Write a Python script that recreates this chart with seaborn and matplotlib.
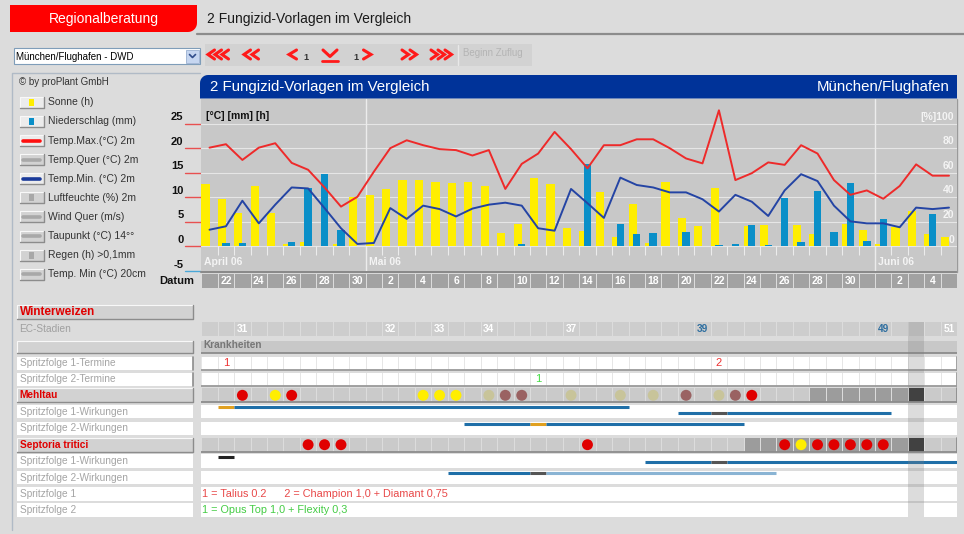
import numpy as np
import pandas as pd
import matplotlib
matplotlib.use("Agg")
import matplotlib.pyplot as plt
from matplotlib.patches import Rectangle, Polygon
from matplotlib import transforms
import seaborn as sns

# ---------------- data ----------------
start_date = "2006-04-21"

sun_h = [12.7, 9.7, 6.8, 12.3, 6.8, 0.5, 1.0, 0, 0.5, 10.1,
         10.5, 11.6, 13.5, 13.5, 13.2, 12.9, 13.2, 12.3, 2.7, 4.6,
         13.9, 12.7, 3.7, 3.2, 11.0, 2.0, 8.7, 0.6, 13.2, 5.7,
         4.1, 11.8, 0, 4.1, 4.4, 0, 4.3, 2.5, 0, 4.6,
         3.4, 0.4, 3.9, 7.3, 2.5, 1.9]
rain_mm = [0, 0.7, 0.7, 0, 0, 0.9, 11.8, 14.7, 3.4, 0,
           0, 0, 0, 0, 0, 0, 0, 0, 0, 0.5,
           0, 0, 0, 16.7, 0, 4.6, 2.5, 2.8, 0, 3.0,
           0, 0.3, 0.4, 4.4, 0.3, 9.8, 1.0, 11.2, 3.0, 13.0,
           1.2, 5.6, 0, 0, 6.6, 0]
tmax = [20.1, 20.8, 17.6, 20.1, 21.0, 17.0, 15.6, 12.0, 8.1, 10.1,
        15.2, 20.0, 21.6, 20.6, 19.8, 19.6, 18.5, 19.6, 11.7, 16.8,
        18.9, 23.3, 19.8, 15.9, 20.6, 20.6, 21.8, 21.8, 20.0, 17.9,
        16.9, 27.7, 13.5, 14.9, 17.1, 16.6, 20.6, 18.9, 13.5, 10.5,
        11.4, 9.7, 12.3, 16.7, 14.4, 14.4]
tmin = [3.4, 4.1, 9.3, 4.7, 8.5, 12.0, 11.8, 7.8, 3.7, 0.5,
        0.7, 7.8, 5.6, 8.3, 7.6, 6.1, 7.7, 8.5, 8.9, 8.3,
        3.7, 3.2, 11.7, 8.8, 5.8, 14.0, 12.5, 12.0, 11.0, 11.0,
        9.6, 7.1, 10.5, 9.1, 6.2, 11.4, 14.7, 13.3, 8.3, 5.1,
        4.7, 4.7, 3.9, 7.9, 7.6, 7.9]

left_ticks = [25, 20, 15, 10, 5, 0, -5]
right_ticks = [100, 80, 60, 40, 20, 0]
month_names = {4: "April 06", 5: "Mai 06", 6: "Juni 06"}

legend_names = ["Sonne (h)", "Niederschlag (mm)", "Temp.Max.(°C) 2m", "Temp.Quer (°C) 2m",
                "Temp.Min. (°C) 2m", "Luftfeuchte (%) 2m", "Wind Quer (m/s)",
                "Taupunkt (°C) 14°°", "Regen (h) >0,1mm", "Temp. Min (°C) 20cm"]
legend_marks = ["box", "box", "line", "line", "line", "box", "line", "line", "box", "line"]
legend_colors = ["#ffee00", "#0a8fc8", "#ff1010", "#a8a8a8", "#1a3a9a",
                 "#a8a8a8", "#a8a8a8", "#a8a8a8", "#a8a8a8", "#a8a8a8"]
legend_active = [True, True, True, False, True, False, False, False, False, False]

ec_days = [2, 11, 14, 17, 22, 30, 41, 45]
ec_labels = ["31", "32", "33", "34", "37", "39", "49", "51"]
ec_blue = ["39", "49"]

termine1_days = [1, 31]
termine1_labels = ["1", "2"]
termine2_days = [20]
termine2_labels = ["1"]

mehltau_days = [2, 4, 5, 13, 14, 15, 17, 18, 19, 22, 25, 27, 29, 31, 32, 33]
mehltau_level = ["rot", "gelb", "rot", "gelb", "gelb", "gelb", "oliv", "braun", "braun",
                 "oliv", "oliv", "oliv", "braun", "oliv", "braun", "rot"]
mehltau_dark = [37, 38, 39, 40, 41, 42]
septoria_days = [6, 7, 8, 23, 35, 36, 37, 38, 39, 40, 41]
septoria_level = ["rot", "rot", "rot", "rot", "rot", "gelb", "rot", "rot", "rot", "rot", "rot"]
septoria_dark = [33, 34, 35, 36, 37, 38, 39, 40, 41, 42]
today_day = 43

# effect bars: (from, to, colour key, sub-line)
mehltau_sf1 = [(1, 2, "orange", 0), (2, 26, "blue", 0),
               (29, 31, "blue", 1), (31, 32, "dark", 1), (32, 42, "blue", 1)]
mehltau_sf2 = [(16, 20, "blue", 0), (20, 21, "orange", 0), (21, 33, "blue", 0)]
septoria_sf1 = [(1, 2, "black", 0), (27, 31, "blue", 1), (31, 32, "dark", 1), (32, 46, "blue", 1)]
septoria_sf2 = [(15, 20, "blue", 0), (20, 21, "dark", 0), (21, 35, "light", 0)]

spray1_text = "1 = Talius 0.2      2 = Champion 1,0 + Diamant 0,75"
spray2_text = "1 = Opus Top 1,0 + Flexity 0,3"

# ---------------- colours ----------------
PAGE = "#dcdcdc"
PLOT = "#c8c8c8"
YELLOW = "#ffee00"
RAIN = "#0a8fc8"
RED = "#ee2a2a"
NAVY = "#2444a4"
dot_palette = {"rot": "#e00000", "gelb": "#ffee00", "oliv": "#c8c49a", "braun": "#9a6262"}
line_colors = {"blue": "#1f6fa8", "orange": "#e0a020", "dark": "#555555",
               "black": "#222222", "light": "#8ab4d4"}

sns.set_theme(style="white")
plt.rcParams["font.family"] = ["Liberation Sans", "DejaVu Sans"]

W, H = 964, 534
fig = plt.figure(figsize=(W / 100, H / 100), dpi=100)
fig.patch.set_facecolor(PAGE)


def fig_rect(x0, y0, x1, y1):
    return [x0 / W, 1 - y1 / H, (x1 - x0) / W, (y1 - y0) / H]


page = fig.add_axes([0, 0, 1, 1])
page.set_xlim(0, W)
page.set_ylim(H, 0)
page.axis("off")

X0, X1 = 201.3, 957.2
ax = fig.add_axes(fig_rect(X0, 99, X1, 271))
tab = fig.add_axes(fig_rect(X0, 272, X1, H))


def round_poly(x0, y0, x1, y1, r, corners, **kw):
    def arc(cx, cy, a0, a1):
        t = np.radians(np.linspace(a0, a1, 8))
        return list(zip(cx + r * np.cos(t), cy + r * np.sin(t)))
    pts = []
    pts += arc(x0 + r, y0 + r, 180, 270) if "tl" in corners else [(x0, y0)]
    pts += arc(x1 - r, y0 + r, 270, 360) if "tr" in corners else [(x1, y0)]
    pts += arc(x1 - r, y1 - r, 0, 90) if "br" in corners else [(x1, y1)]
    pts += arc(x0 + r, y1 - r, 90, 180) if "bl" in corners else [(x0, y1)]
    page.add_patch(Polygon(pts, closed=True, **kw))


def bevel(x0, y0, x1, y1, fc, light="#f8f8f8", dark="#8c8c8c"):
    page.add_patch(Rectangle((x0, y0), x1 - x0, y1 - y0, fc=fc, ec="none"))
    page.plot([x0, x0, x1], [y1, y0, y0], color=light, lw=0.8)
    page.plot([x0, x1, x1], [y1, y1, y0], color=dark, lw=1.0)


def chevrons(x, y, n, direction, step=7, w=6.5, h=4.5):
    for k in range(n):
        xs = x + k * step
        if direction == "left":
            px, py = [xs + w, xs, xs + w], [y - h, y, y + h]
        else:
            px, py = [xs, xs + w, xs], [y - h, y, y + h]
        page.plot(px, py, color="#ff1a1a", lw=2.2, solid_joinstyle="miter")


# ---------------- header ----------------
round_poly(10, 5, 197, 32, 9, {"br"}, fc="#ff0000", ec="none")
page.text(104, 18.5, "Regionalberatung", color="white", fontsize=10, ha="center", va="center")
page.text(207, 18.5, "2 Fungizid-Vorlagen im Vergleich", color="#1a1a1a", fontsize=10, va="center")
page.plot([197, 964], [33.5, 33.5], color="#8c8c8c", lw=1.6)

page.add_patch(Rectangle((14, 48), 186, 16, fc="white", ec="#7f9db9", lw=0.8))
page.add_patch(Rectangle((186, 49.5), 13, 13, fc="#c6d6f0", ec="#9ab0d0", lw=0.6))
page.plot([189.5, 192.5, 195.5], [54.5, 57.5, 54.5], color="#304d8a", lw=1.2)
page.text(16, 56.5, "München/Flughafen - DWD", fontsize=7, color="black", va="center")

page.add_patch(Rectangle((205, 44), 327, 22, fc="#d2d2d2", ec="none"))
chevrons(208, 54.5, 3, "left")
chevrons(244, 54.5, 2, "left", step=8)
chevrons(289, 54.5, 1, "left", w=7.5)
page.text(303, 58, "1", fontsize=6.5, color="#333333", fontweight="bold", va="center")
page.plot([323, 330, 337], [50, 56.5, 50], color="#ff1a1a", lw=2.2)
page.plot([322, 338], [61, 61], color="#ff1a1a", lw=2)
page.text(353, 58, "1", fontsize=6.5, color="#333333", fontweight="bold", va="center")
chevrons(363.5, 54.5, 1, "right", w=7.5)
chevrons(402, 54.5, 2, "right", step=8)
chevrons(431, 54.5, 3, "right")
page.plot([458, 458], [45, 65], color="#e8e8e8", lw=1)
page.text(463, 53.5, "Beginn Zuflug", fontsize=7, color="#b4b4b4", va="center")

# ---------------- left legend panel ----------------
page.plot([12, 12, 200], [530, 73, 73], color="#b0bac6", lw=1)
page.text(19, 82, "© by proPlant GmbH", fontsize=7, color="#333333", va="center")
for i, name in enumerate(legend_names):
    yc = 102.3 + i * 19.1
    bevel(19.5, yc - 5.5, 43.5, yc + 5.5, "#ececec" if legend_active[i] else "#d2d2d2")
    if legend_marks[i] == "box":
        page.add_patch(Rectangle((28.5, yc - 3.5), 5, 7, fc=legend_colors[i], ec="none"))
    else:
        page.plot([23, 40], [yc, yc], color=legend_colors[i], lw=2.6)
    page.text(47.5, yc, name, fontsize=7.5, color="#333333", va="center")

# ---------------- blue title bar ----------------
round_poly(200, 75, 957, 98.5, 8, {"tl"}, fc="#003399", ec="none")
page.text(210, 87, "2 Fungizid-Vorlagen im Vergleich", color="white", fontsize=10.8, va="center")
page.text(950, 87, "München/Flughafen", color="white", fontsize=10.8, va="center", ha="right")

# ---------------- weather chart ----------------
dates = pd.date_range(start_date, periods=len(sun_h), freq="D")
df = pd.DataFrame({"day": np.arange(len(dates)), "sun": sun_h, "rain": rain_mm,
                   "tmax": tmax, "tmin": tmin})

ax.set_facecolor(PLOT)
for v in left_ticks[:-1]:
    ax.axhline(v, color="#e6e6e6", lw=0.8, zorder=0.5)
month_starts = df["day"][dates.day == 1].tolist()
for m in month_starts:
    ax.axvline(m - 0.5, color="#ececec", lw=1, zorder=0.6)
ax.vlines(df["day"][:-1] + 0.5, -1.7, 0, color="#ececec", lw=0.8, zorder=0.6)

sns.barplot(x=df["day"] - 0.25, y=df["sun"], native_scale=True, width=0.5, orient="x",
            color=YELLOW, saturation=1, errorbar=None, linewidth=0, ax=ax)
sns.barplot(x=df["day"] + 0.0, y=df["rain"], native_scale=True, width=0.45, orient="x",
            color=RAIN, saturation=1, errorbar=None, linewidth=0, ax=ax)
sns.lineplot(x=df["day"], y=df["tmax"], color=RED, lw=1.4, ax=ax)
sns.lineplot(x=df["day"], y=df["tmin"], color=NAVY, lw=1.4, ax=ax)

ax.set_xlim(-0.5, len(dates) - 0.5)
ax.set_ylim(-5, 30)
ax.set_xticks([])
ax.set_yticks([])
ax.set_xlabel("")
ax.set_ylabel("")
for s in ax.spines.values():
    s.set_visible(False)

ax.text(-0.22, 26.5, "[°C] [mm] [h]", fontsize=7.5, fontweight="bold", color="#111111", va="center")
for v in right_ticks:
    lab = "[%]" + str(v) if v == right_ticks[0] else str(v)
    ax.text(45.3, v / 4 + 1.4, lab, fontsize=7.5, fontweight="bold", color="#f4f4f4",
            ha="right", va="center")
starts = [0] + month_starts
for m in starts:
    ax.text(m - 0.5 + (0.2 if m else 0.15), -3.2, month_names[dates[m].month], fontsize=7.5,
            fontweight="bold", color="#f4f4f4", va="center")

blend = transforms.blended_transform_factory(page.transData, ax.transData)
for v in left_ticks:
    page.text(183.5, v + 1.3, str(v), transform=blend, fontsize=8, fontweight="bold",
              color="#111111", ha="right", va="center", clip_on=False)
    page.plot([185, 201], [v, v], transform=blend, color="#e85050" if v > -5 else "#4aa8d8",
              lw=1, clip_on=False)
page.plot([X0, X1], [271.5, 271.5], color="#8a8a8a", lw=1.5)
page.plot([X1, X1], [99, 271.5], color="#9a9a9a", lw=1)
page.text(194.5, 281, "Datum", fontsize=8, fontweight="bold", color="#111111", ha="right", va="center")

# ---------------- date row + table ----------------
tab.set_xlim(-0.5, len(dates) - 0.5)
tab.set_ylim(H, 272)
tab.axis("off")
g = 1 / 16.43

for d, dt in zip(df["day"], dates):
    tab.add_patch(Rectangle((d - 0.5 + g, 273.5), 1 - g, 14.8, fc="#a2a2a2", ec="none"))
    if dt.day % 2 == 0:
        tab.text(d, 281, str(dt.day), fontsize=7.5, fontweight="bold", color="white",
                 ha="center", va="center")

rows = [("Winterweizen", 305, 319, "head"),
        ("EC-Stadien", 322, 336, "ec"),
        ("", 341, 353.3, "krank"),
        ("Spritzfolge 1-Termine", 357, 370, "termin"),
        ("Spritzfolge 2-Termine", 373, 386, "termin"),
        ("Mehltau", 388.3, 402.3, "disease"),
        ("Spritzfolge 1-Wirkungen", 405, 418.3, "wirk"),
        ("Spritzfolge 2-Wirkungen", 421.7, 435, "wirk"),
        ("Septoria tritici", 437.7, 451.7, "disease"),
        ("Spritzfolge 1-Wirkungen", 454.3, 467.7, "wirk"),
        ("Spritzfolge 2-Wirkungen", 471, 484.3, "wirk"),
        ("Spritzfolge 1", 487.3, 500.7, "text"),
        ("Spritzfolge 2", 503.3, 516.7, "text")]

n = len(dates)
for label, y0, y1, kind in rows:
    yc = (y0 + y1) / 2
    if kind in ("head", "disease", "krank"):
        bevel(17, y0, 193, y1, "#d2d2d2")
        page.text(19.5, yc, label, fontsize=8.5 if kind == "head" else 7.3, fontweight="bold",
                  color="#e00000", va="center")
    elif kind == "ec":
        page.text(19.5, yc, label, fontsize=7.3, color="#a0a0a0", va="center")
    else:
        page.add_patch(Rectangle((17, y0), 176, y1 - y0, fc="white", ec="none"))
        if kind == "termin":
            page.plot([193, 193], [y0, y1], color="#8c8c8c", lw=1.2)
        page.text(19.5, yc, label, fontsize=7.3, color="#a4a4a4", va="center")

    if kind == "ec":
        for d in range(n):
            tab.add_patch(Rectangle((d - 0.5 + g, y0), 1 - g, y1 - y0, fc="#cdcdcd", ec="none"))
        for d, lab in zip(ec_days, ec_labels):
            tab.text(d, yc, lab, fontsize=7.3, fontweight="bold", ha="center", va="center",
                     color="#2f6fa0" if lab in ec_blue else "white")
    elif kind == "krank":
        tab.add_patch(Rectangle((-0.5, y0), n, y1 - y0, fc="#c8c8c8", ec="none"))
        tab.plot([-0.5, n - 0.5], [y1, y1], color="#8c8c8c", lw=1.3)
        tab.text(-0.4, y0 + 4.5, "Krankheiten", fontsize=7.3, fontweight="bold", color="#777777",
                 va="center")
    elif kind == "termin":
        tab.add_patch(Rectangle((-0.5, y0), n, y1 - y0, fc="#e6e6e6", ec="none"))
        for d in range(n):
            tab.add_patch(Rectangle((d - 0.5 + g, y0), 1 - g, y1 - y0, fc="white", ec="none"))
        tab.plot([-0.5, n - 0.5], [y1, y1], color="#9a9a9a", lw=1.3)
        tab.plot([n - 0.5, n - 0.5], [y0, y1], color="#9a9a9a", lw=1.3)
    elif kind == "disease":
        dark = mehltau_dark if label == "Mehltau" else septoria_dark
        for d in range(n):
            fc = "#2a2a2a" if d == today_day else ("#9c9c9c" if d in dark else "#cacaca")
            tab.add_patch(Rectangle((d - 0.5 + g, y0), 1 - g, y1 - y0, fc=fc, ec="none"))
        tab.plot([-0.5, n - 0.5], [y1, y1], color="#8c8c8c", lw=1.3)
        tab.plot([n - 0.5, n - 0.5], [y0, y1], color="#8c8c8c", lw=1.3)
    elif kind in ("wirk", "text"):
        tab.add_patch(Rectangle((-0.5, y0), n, y1 - y0, fc="white", ec="none"))

# termine numbers
r_t1, r_t2 = rows[3], rows[4]
for d, lab in zip(termine1_days, termine1_labels):
    tab.text(d, (r_t1[1] + r_t1[2]) / 2, lab, fontsize=8, color="#ee3333", ha="center", va="center")
for d, lab in zip(termine2_days, termine2_labels):
    tab.text(d, (r_t2[1] + r_t2[2]) / 2, lab, fontsize=8, color="#44dd44", ha="center", va="center")

# disease dots
for (label, y0, y1, kind), days, levels in [(rows[5], mehltau_days, mehltau_level),
                                            (rows[8], septoria_days, septoria_level)]:
    sns.scatterplot(x=days, y=[(y0 + y1) / 2] * len(days), hue=levels, palette=dot_palette,
                    s=62, linewidth=0, legend=False, ax=tab, zorder=4)

# effect bars
for (label, y0, y1, kind), segs in [(rows[6], mehltau_sf1), (rows[7], mehltau_sf2),
                                    (rows[9], septoria_sf1), (rows[10], septoria_sf2)]:
    for a, b, c, sub in segs:
        yl = y0 + 2.3 + sub * 5.5
        tab.plot([a - 0.5, b - 0.5], [yl, yl], color=line_colors[c], lw=2.2,
                 solid_capstyle="butt", zorder=3)

tab.text(-0.45, (rows[11][1] + rows[11][2]) / 2, spray1_text, fontsize=7.8, color="#e84848",
         va="center")
tab.text(-0.45, (rows[12][1] + rows[12][2]) / 2, spray2_text, fontsize=7.8, color="#44cc44",
         va="center")

tab.add_patch(Rectangle((today_day - 0.5, 322), 1, 195, fc="#808080", alpha=0.27, ec="none",
                        zorder=5))
tab.set_xlim(-0.5, n - 0.5)
tab.set_ylim(H, 272)

fig.savefig("out.png", dpi=100, facecolor=fig.get_facecolor())
